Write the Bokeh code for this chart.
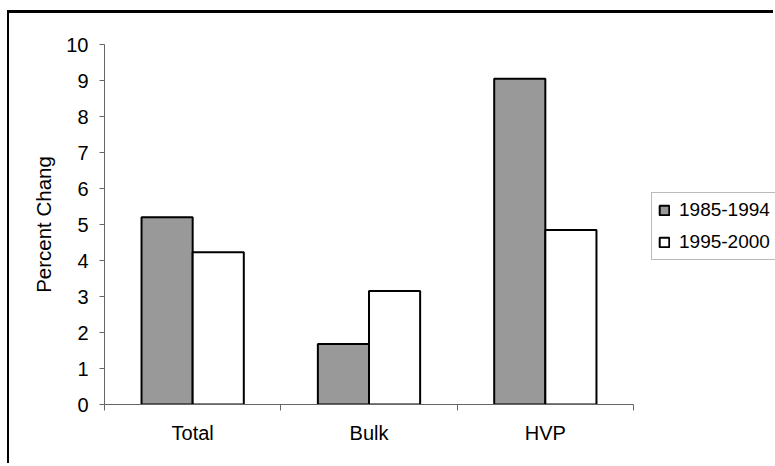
import numpy as np
from bokeh.plotting import figure
from bokeh.models import Range1d, FixedTicker, Legend, LegendItem
from bokeh.embed import file_html
from bokeh.resources import INLINE

categories = ["Total", "Bulk", "HVP"]
series_names = ["1985-1994", "1995-2000"]
values_1985_1994 = [5.2, 1.68, 9.05]
values_1995_2000 = [4.23, 3.15, 4.85]
y_ticks = [0, 1, 2, 3, 4, 5, 6, 7, 8, 9, 10]
y_label = "Percent Chang"

FONT = "Liberation Sans"

# layout (pixels): canvas 766 wide, left panel 95, category axis spans 529 px;
# the frame runs to the right edge so the legend can sit beside the axes.
W, H = 766, 453
LEFT, AXIS_PX = 95, 529
ncat = len(categories)
x_end = ncat * (W - LEFT) / AXIS_PX

p = figure(width=W, height=H, output_backend="svg", toolbar_location=None,
           x_range=Range1d(0, x_end), y_range=Range1d(0, 10),
           min_border_left=LEFT, min_border_top=31, min_border_bottom=62,
           min_border_right=0)
p.styles = {"border-left": "2px solid black", "border-top": "3px solid black",
            "margin-top": "10px", "margin-left": "7px"}
p.outline_line_color = None
p.background_fill_color = "white"
p.border_fill_color = "white"
p.xgrid.visible = False
p.ygrid.visible = False

idx = np.arange(ncat)
centers = idx + 0.5
bw = 0.29
r1 = p.vbar(x=centers - bw / 2, top=values_1985_1994, width=bw, bottom=0,
            fill_color="#999999", line_color="black", line_width=2)
r2 = p.vbar(x=centers + bw / 2, top=values_1995_2000, width=bw, bottom=0,
            fill_color="white", line_color="black", line_width=2)

# x axis: category labels centred, boundary ticks drawn as minor ticks
xa = p.xaxis[0]
xa.bounds = (0, ncat)
xa.ticker = FixedTicker(ticks=list(centers), minor_ticks=list(np.arange(ncat + 1)))
xa.major_label_overrides = {float(c): name for c, name in zip(centers, categories)}
xa.major_tick_out = 0
xa.major_tick_in = 0
xa.minor_tick_out = 6
xa.minor_tick_in = 0
xa.minor_tick_line_color = "#666666"
xa.axis_line_color = "#666666"
xa.major_label_text_font = FONT
xa.major_label_text_font_size = "20px"
xa.major_label_text_color = "black"
xa.major_label_standoff = 11

ya = p.yaxis[0]
ya.ticker = FixedTicker(ticks=y_ticks, minor_ticks=[])
ya.major_tick_out = 5
ya.major_tick_in = 0
ya.major_tick_line_color = "#666666"
ya.axis_line_color = "#666666"
ya.major_label_text_font = FONT
ya.major_label_text_font_size = "20px"
ya.major_label_text_color = "black"
ya.major_label_standoff = 11
ya.axis_label = y_label
ya.axis_label_text_font = FONT
ya.axis_label_text_font_size = "20.5px"
ya.axis_label_text_font_style = "normal"
ya.axis_label_text_color = "black"
ya.axis_label_standoff = 8

lg = Legend(items=[LegendItem(label=series_names[0], renderers=[r1]),
                   LegendItem(label=series_names[1], renderers=[r2])],
            location=(AXIS_PX + 18, 144))
lg.border_line_color = "#777777"
lg.border_line_width = 1
lg.background_fill_color = "white"
lg.background_fill_alpha = 1
lg.label_text_font = FONT
lg.label_text_font_size = "19px"
lg.label_text_color = "black"
lg.label_width = 100
lg.glyph_width = 12
lg.glyph_height = 12
lg.label_standoff = 9
lg.padding = 6
lg.spacing = 10
lg.margin = 0
p.add_layout(lg, "center")

open("out.html", "w").write(file_html(p, INLINE))
